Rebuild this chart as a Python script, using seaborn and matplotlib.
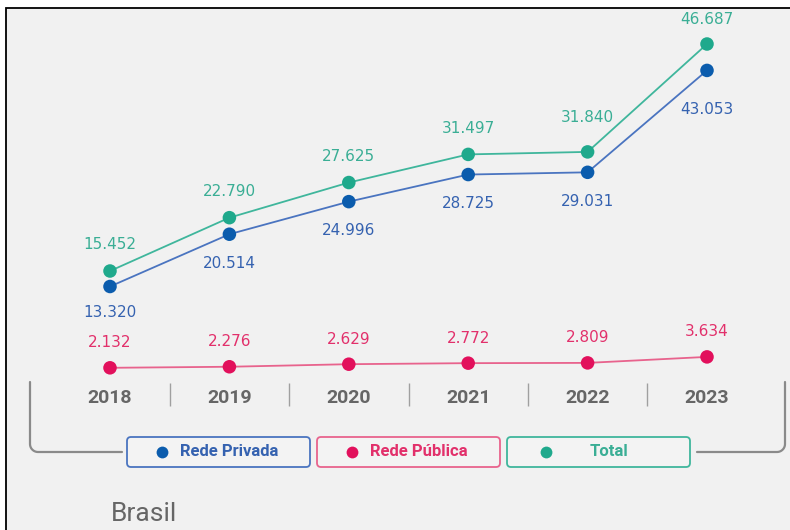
import numpy as np
import pandas as pd
import seaborn as sns
import matplotlib.pyplot as plt
from matplotlib.patches import FancyBboxPatch, Rectangle

# dados
anos = [2018, 2019, 2020, 2021, 2022, 2023]
rede_privada = [13320, 20514, 24996, 28725, 29031, 43053]
rede_publica = [2132, 2276, 2629, 2772, 2809, 3634]
total = [15452, 22790, 27625, 31497, 31840, 46687]
series = ["Rede Privada", "Rede Pública", "Total"]

cores = {"Rede Privada": "#0b5cad", "Rede Pública": "#e2105c", "Total": "#1fa98c"}
cores_linha = {"Rede Privada": "#4a74c0", "Rede Pública": "#e8638d", "Total": "#3fb69c"}
cores_texto = {"Rede Privada": "#3562b0", "Rede Pública": "#e2306b", "Total": "#3aae95"}

df = pd.DataFrame({
    "ano": anos * 3,
    "valor": rede_privada + rede_publica + total,
    "serie": [s for s in series for _ in anos],
})

sns.set_theme(style="white")
plt.rcParams["font.family"] = ["DejaVu Sans"]

W, H = 790, 530
fig = plt.figure(figsize=(W / 100, H / 100), dpi=100)
fig.patch.set_facecolor("white")

# camada de fundo em coordenadas de pixel (moldura, chave e legenda)
bg = fig.add_axes([0, 0, 1, 1], zorder=-1)
bg.set_xlim(0, W)
bg.set_ylim(H, 0)
bg.axis("off")
bg.add_patch(Rectangle((6, 8), W, H, facecolor="#f1f1f1", edgecolor="black", lw=1.3))


def canto(r, cx, cy, a0, a1):
    t = np.linspace(np.radians(a0), np.radians(a1), 12)
    return cx + r * np.cos(t), cy + r * np.sin(t)


# chave cinza em volta dos anos
r = 8
ax_, ay_ = canto(r, 30 + r, 452 - r, 180, 90)
bg.plot(np.r_[30, ax_, 122], np.r_[382, ay_, 452], color="#8a8a8a", lw=1.6,
        solid_capstyle="round")
bx_, by_ = canto(r, 785 - r, 452 - r, 90, 0)
bg.plot(np.r_[697, bx_, 785], np.r_[452, by_, 382], color="#8a8a8a", lw=1.6,
        solid_capstyle="round")

# legenda em caixas
caixas = [(127, 310, 162, 180), (317, 500, 352, 370), (507, 690, 546, 590)]
for s, (x0, x1, xd, xt) in zip(series, caixas):
    bg.add_patch(FancyBboxPatch((x0, 437), x1 - x0, 30,
                                boxstyle="round,pad=0,rounding_size=4",
                                facecolor="#f3f3f3", edgecolor=cores_linha[s], lw=1.3))
    bg.plot([xd], [452], "o", color=cores[s], ms=8.5, mew=0)
    bg.text(xt, 452, s, color=cores_texto[s], fontsize=12, fontweight="bold",
            family=["Roboto", "DejaVu Sans"], va="center", ha="left")

bg.text(111, 514, "Brasil", color="#666666", fontsize=19,
        family=["Roboto", "DejaVu Sans"], va="center", ha="left")

# eixo principal
px_ano = 119.4
px_unid = 227 / (46687 - 15452)
y0 = 383.3
ax = fig.add_axes([30 / W, 1 - y0 / H, (785 - 30) / W, (y0 - 10) / H])
ax.patch.set_alpha(0)

sns.lineplot(data=df, x="ano", y="valor", hue="serie", palette=cores_linha,
             linewidth=1.3, legend=False, ax=ax, sort=False)
sns.scatterplot(data=df, x="ano", y="valor", hue="serie", palette=cores,
                s=95, linewidth=0, legend=False, ax=ax, zorder=3)

ax.set_xlim(2018 - 80 / px_ano, 2023 + 78 / px_ano)
ax.set_ylim(0, (y0 - 10) / px_unid)
for sp in ax.spines.values():
    sp.set_visible(False)
ax.set_yticks([])
ax.set_xlabel("")
ax.set_ylabel("")
ax.set_xticks(anos)
ax.set_xticklabels([str(a) for a in anos], fontsize=14, fontweight="bold",
                   color="#666666", family=["Roboto", "DejaVu Sans"])
ax.set_xticks([a + 0.5 for a in anos[:-1]], minor=True)
ax.tick_params(axis="x", which="major", length=0, pad=4)
ax.tick_params(axis="x", which="minor", direction="out", length=16.5,
               width=1, color="#a0a0a0", bottom=True)

# rótulos de valores
desloc = {"Total": 19, "Rede Privada": -21, "Rede Pública": 18}
ajuste = {("Total", 2022): 24.5, ("Total", 2023): 18, ("Rede Privada", 2023): -28,
          ("Rede Privada", 2018): -19}
valores = {"Rede Privada": rede_privada, "Rede Pública": rede_publica, "Total": total}
for s in series:
    for ano, v in zip(anos, valores[s]):
        off = ajuste.get((s, ano), desloc[s])
        ax.annotate(f"{v:,}".replace(",", "."), (ano, v), xytext=(0, off),
                    textcoords="offset points", ha="center", va="center",
                    color=cores_texto[s], fontsize=11)

fig.savefig("out.png", dpi=100)
